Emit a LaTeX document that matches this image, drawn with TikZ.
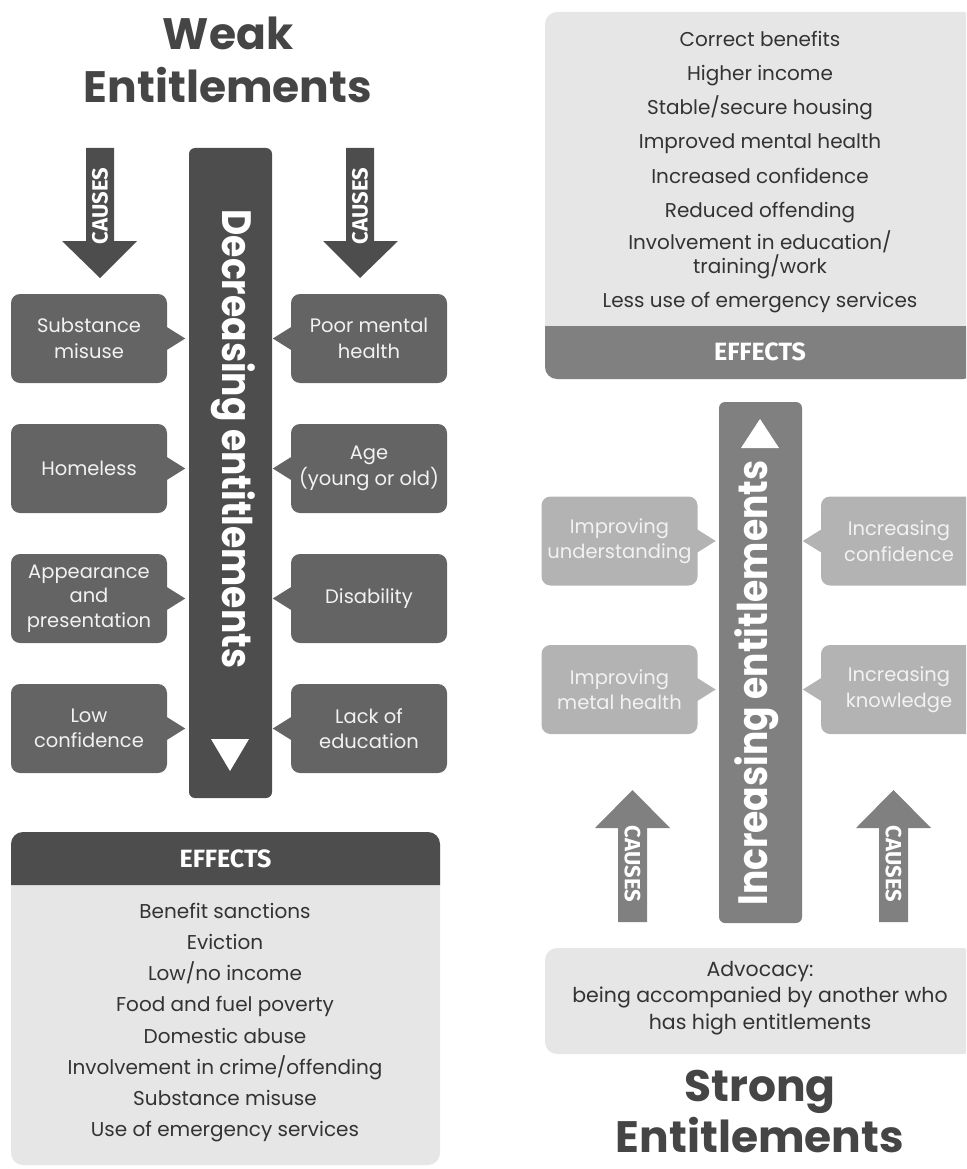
\documentclass[tikz,border=0pt]{standalone}
\usepackage{fontspec}
\setmainfont{Poppins}
\newfontfamily\labfont{Fira Sans}
\usetikzlibrary{calc}
\definecolor{dk}{HTML}{4D4D4D}
\definecolor{mid}{HTML}{646464}
\definecolor{md}{HTML}{808080}
\definecolor{lt}{HTML}{B3B3B3}
\definecolor{pale}{HTML}{E6E6E6}
\definecolor{txt}{HTML}{333333}
\definecolor{ttl}{HTML}{454545}
\begin{document}
\begin{tikzpicture}[x=1pt,y=-1pt,
  bubble/.style={rounded corners=9pt, minimum width=156pt, minimum height=89pt, text=white!95!black, align=center, inner sep=0pt, font=\fontsize{19.5}{25.5}\selectfont},
  darkbub/.style={bubble, fill=mid},
  lightbub/.style={bubble, fill=lt},
  bar/.style={rounded corners=6pt, minimum width=83pt, inner sep=0pt},
  bartext/.style={text=white, inner sep=0pt, font=\fontsize{41}{41}\selectfont\bfseries},
  causes/.style={text=white, inner sep=0pt, font=\labfont\fontsize{22}{22}\selectfont\bfseries},
  effhead/.style={text=white, inner sep=0pt, font=\labfont\fontsize{25}{25}\selectfont\bfseries},
  item/.style={text=txt, inner sep=0pt, align=center, font=\fontsize{20}{24}\selectfont},
  line/.style={item, anchor=base},
  title/.style={text=ttl, inner sep=0pt, font=\fontsize{44}{44}\selectfont\bfseries},
]
\useasboundingbox (0,0) rectangle (966,1169);
\clip (0,0) rectangle (966,1169);

% ---------------- LEFT: weak entitlements ----------------
\node[title] (wt1) at (228,33) {Weak};
\node[title] (wt2) at (228,85) {Entitlements};

% causes arrows (down)
\fill[dk] (86,148) -- (114,148) -- (114,241) -- (137,241) -- (100,278) -- (62,241) -- (86,241) -- cycle;
\fill[dk] (346,148) -- (374,148) -- (374,241) -- (398,241) -- (360,278) -- (323,241) -- (346,241) -- cycle;
\node[causes, rotate=90] (lc1) at (100,206) {CAUSES};
\node[causes, rotate=90] (lc2) at (360,206) {CAUSES};

% central bar
\node[bar, fill=dk, minimum height=650pt] (dbar) at (230.5,473) {};
\node[bartext, rotate=-90] (dtext) at (233,439) {\scalebox{0.88}[1]{Decreasing entitlements}};
\fill[white] (211,739) -- (249,739) -- (230,771) -- cycle;

% bubbles left column
\node[darkbub] (b1) at (89,338.5) {Substance\\misuse};
\node[darkbub] (b2) at (89,468.5) {Homeless};
\node[darkbub, font=\fontsize{19.5}{24.5}\selectfont] (b3) at (89,598.5) {Appearance\\and\\presentation};
\node[darkbub] (b4) at (89,728.5) {Low\\confidence};
% bubbles right column
\node[darkbub] (b5) at (369,338.5) {Poor mental\\health};
\node[darkbub] (b6) at (369,468.5) {Age\\(young or old)};
\node[darkbub] (b7) at (369,598.5) {Disability};
\node[darkbub] (b8) at (369,728.5) {Lack of\\education};
\foreach \b in {b1,b2,b3,b4}
  \fill[mid] ($(\b.east)+(-2,-12.5)$) -- ($(\b.east)+(18,0)$) -- ($(\b.east)+(-2,12.5)$) -- cycle;
\foreach \b in {b5,b6,b7,b8}
  \fill[mid] ($(\b.west)+(2,-12.5)$) -- ($(\b.west)+(-18,0)$) -- ($(\b.west)+(2,12.5)$) -- cycle;

% effects (left)
\node[fill=pale, rounded corners=12pt, minimum width=429pt, minimum height=333pt, inner sep=0pt] (leff) at (225.5,998.5) {};
\fill[dk] (11,885) [rounded corners=12pt] -- (11,832) -- (440,832) [sharp corners] -- (440,885) -- cycle;
\node[effhead] (lh) at (225.5,859) {EFFECTS};
\node[line] (l1) at (225,918) {Benefit sanctions};
\node[line] (l2) at (225,949) {Eviction};
\node[line] (l3) at (225,980) {Low/no income};
\node[line] (l4) at (225,1011) {Food and fuel poverty};
\node[line] (l5) at (225,1043) {Domestic abuse};
\node[line] (l6) at (225,1074) {Involvement in crime/offending};
\node[line] (l7) at (225,1105) {Substance misuse};
\node[line] (l8) at (225,1136) {Use of emergency services};

% ---------------- RIGHT: strong entitlements ----------------
\node[fill=pale, rounded corners=12pt, minimum width=430pt, minimum height=367pt, inner sep=0pt] (reff) at (760,195.5) {};
\fill[md] (545,326) -- (975,326) [rounded corners=12pt] -- (975,379) -- (545,379) [sharp corners] -- (545,326) -- cycle;
\node[effhead] (rh) at (760,352) {EFFECTS};
\node[line] (r1) at (760,47) {Correct benefits};
\node[line] (r2) at (760,81) {Higher income};
\node[line] (r3) at (760,115) {Stable/secure housing};
\node[line] (r4) at (760,149) {Improved mental health};
\node[line] (r5) at (760,183) {Increased confidence};
\node[line] (r6) at (760,217) {Reduced offending};
\node[item] (r7) at (760,254.5) {Involvement in education/\\training/work};
\node[line] (r8) at (760,307) {Less use of emergency services};

% central bar
\node[bar, fill=md, minimum height=521pt] (ibar) at (760.5,662.5) {};
\node[bartext, rotate=90] (itext) at (757,683) {\scalebox{0.88}[1]{Increasing entitlements}};
\fill[white] (741,448) -- (779,448) -- (760,419) -- cycle;

% light bubbles
\node[lightbub] (c1) at (619.5,541) {Improving\\understanding};
\node[lightbub] (c2) at (619.5,689.5) {Improving\\metal health};
\node[lightbub] (c3) at (899,541) {Increasing\\confidence};
\node[lightbub] (c4) at (899,689.5) {Increasing\\knowledge};
\foreach \b in {c1,c2}
  \fill[lt] ($(\b.east)+(-2,-12.5)$) -- ($(\b.east)+(18,0)$) -- ($(\b.east)+(-2,12.5)$) -- cycle;
\foreach \b in {c3,c4}
  \fill[lt] ($(\b.west)+(2,-12.5)$) -- ($(\b.west)+(-18,0)$) -- ($(\b.west)+(2,12.5)$) -- cycle;

% causes arrows (up)
\fill[md] (618,922) -- (647,922) -- (647,828) -- (670,828) -- (632.5,790) -- (595,828) -- (618,828) -- cycle;
\fill[md] (879,922) -- (908,922) -- (908,828) -- (931,828) -- (893.5,790) -- (856,828) -- (879,828) -- cycle;
\node[causes, rotate=-90] (rc1) at (632.5,864) {CAUSES};
\node[causes, rotate=-90] (rc2) at (893.5,864) {CAUSES};

% advocacy
\node[fill=pale, rounded corners=12pt, minimum width=430pt, minimum height=106pt, inner sep=0pt] (adv) at (760,1001) {};
\node[item, font=\fontsize{20.5}{26.5}\selectfont] (advt) at (760,998) {Advocacy:\\being accompanied by another who\\has high entitlements};

\node[title] (st1) at (760,1092) {Strong};
\node[title] (st2) at (760,1135) {Entitlements};
\end{tikzpicture}
\end{document}
